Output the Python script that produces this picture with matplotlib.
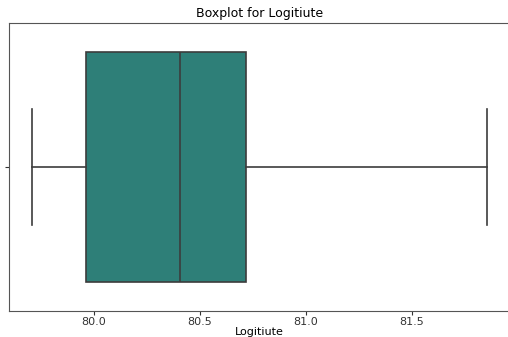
import matplotlib
matplotlib.use("Agg")
import matplotlib.pyplot as plt

# five-number summary of the longitude column
label = "Logitiute"
whis_lo = 79.708
q1 = 79.962
median = 80.406
q3 = 80.717
whis_hi = 81.854

stats = [{"whislo": whis_lo, "q1": q1, "med": median, "q3": q3,
          "whishi": whis_hi, "fliers": [], "label": ""}]

fig = plt.figure(figsize=(5.08, 3.37), dpi=100)
ax = fig.add_axes([9 / 508, 26 / 337, 501 / 508, 288 / 337])

line = dict(color="#3c3c3c", linewidth=1.2)
ax.bxp(stats, positions=[0], widths=0.8, vert=False, patch_artist=True,
       boxprops=dict(facecolor="#2e7f78", edgecolor="#3c3c3c", linewidth=1.2),
       medianprops=line, whiskerprops=line, capprops=line, capwidths=0.4)

span = whis_hi - whis_lo
ax.set_xlim(whis_lo - 0.05 * span, whis_hi + 0.05 * span)
ax.set_ylim(0.5, -0.5)
ax.set_yticks([0])
ax.set_yticklabels([""])
ax.set_xticks([80.0, 80.5, 81.0, 81.5])
ax.tick_params(labelsize=8, colors="#333333", length=3, pad=1.5)
for s in ax.spines.values():
    s.set_color("#555555")
# right edge of the frame falls outside the saved image
ax.spines["right"].set_visible(False)
ax.set_xlabel(label, fontsize=8, labelpad=0)
ax.set_title("Boxplot for " + label, fontsize=9, pad=4)

fig.savefig("out.png", dpi=100)
